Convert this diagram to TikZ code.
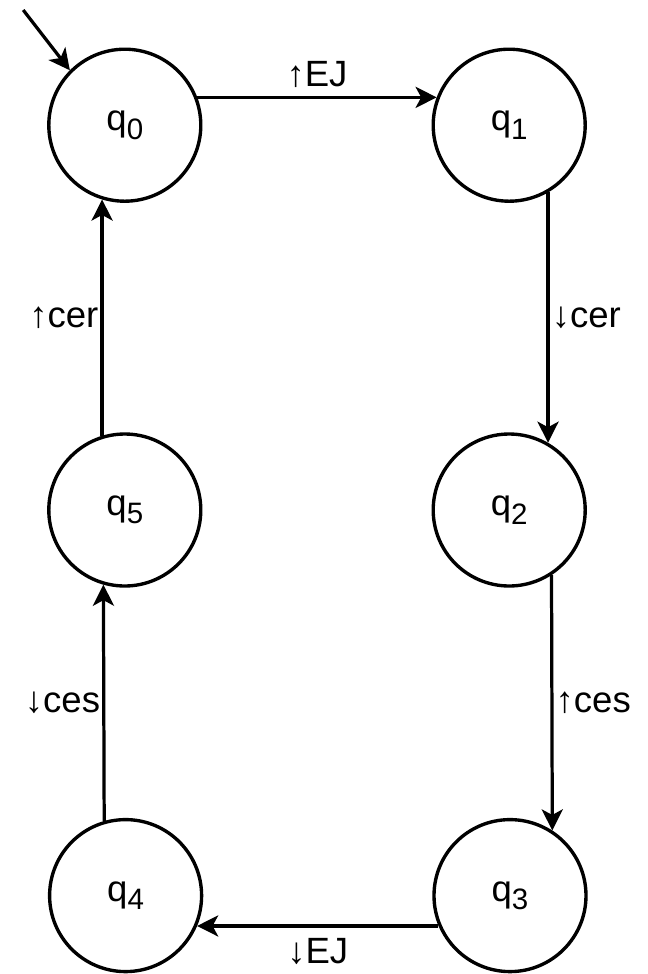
\documentclass[tikz,border=0pt]{standalone}
\usepackage{fontspec}
\setmainfont{Liberation Sans}
\usetikzlibrary{arrows.meta}

% state name with the larger drawio-like subscript
\newcommand{\stname}[1]{q\raisebox{-6pt}{\fontsize{21}{22}\selectfont #1}}

\begin{document}
\begin{tikzpicture}[
  state/.style={draw, circle, line width=2.4pt, minimum size=3.8cm, inner sep=0pt, font=\fontsize{26}{30}\selectfont},
  trans/.style={line width=2.3pt, -{Stealth[length=15pt, width=15pt, inset=4pt]}},
  lbl/.style={font=\fontsize{26}{30}\selectfont, inner sep=1.5pt}
]
  \useasboundingbox (0, 0) rectangle (16.2, -24.35);

  \node[state] (q0) at (3.12, -3.13)   {\stname{0}};
  \node[state] (q1) at (12.73, -3.13)  {\stname{1}};
  \node[state] (q2) at (12.73, -12.75) {\stname{2}};
  \node[state] (q3) at (12.75, -22.39) {\stname{3}};
  \node[state] (q4) at (3.14, -22.39)  {\stname{4}};
  \node[state] (q5) at (3.12, -12.75)  {\stname{5}};

  \coordinate (start) at (0.58, -0.25);

  \draw[trans] (start) -- (q0.135);

  \draw[trans] (q0.21) -- (q1.159)
    node[lbl, midway, above, inner sep=6pt] {↑EJ};
  \draw[trans] (q1.-60) -- (q2.60)
    node[lbl, midway, anchor=west] {↓cer};
  \draw[trans] (q2.-57) -- (q3.57)
    node[lbl, midway, anchor=west] {↑ces};
  \draw[trans] (q3.203) -- (q4.-23)
    node[lbl, midway, below, inner sep=8pt] {↓EJ};
  \draw[trans] (q4.106) -- (q5.-106)
    node[lbl, midway, anchor=east] {↓ces};
  \draw[trans] (q5.107) -- (q0.-107)
    node[lbl, midway, anchor=east] {↑cer};
\end{tikzpicture}
\end{document}
